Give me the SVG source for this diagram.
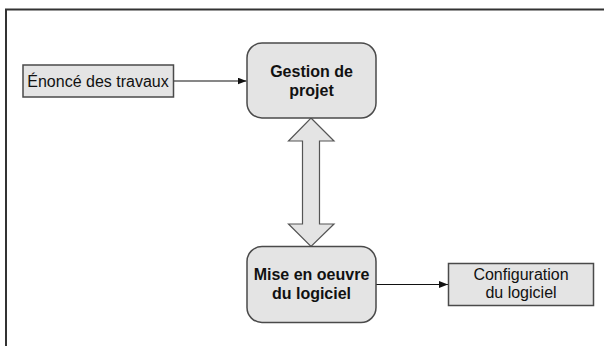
<svg xmlns="http://www.w3.org/2000/svg" width="604" height="346" viewBox="0 0 604 346">
<style>
.box{fill:#e4e4e4;stroke:#4a4a4a;stroke-width:1.5}
.t{font-family:"Liberation Sans",Arial,sans-serif;font-size:16px;fill:#111;text-anchor:middle}
.b{font-weight:bold}
.c{stroke:#111;stroke-width:1.2;fill:none}
</style>
<defs>
<marker id="ah" viewBox="0 0 10 10" refX="10" refY="5" markerWidth="9" markerHeight="7" markerUnits="userSpaceOnUse" orient="auto" preserveAspectRatio="none">
<path d="M0,0 L10,5 L0,10 Z" fill="#111"/>
</marker>
</defs>
<rect width="604" height="346" fill="#fff"/>
<path d="M6,346 V9.5 H604" fill="none" stroke="#333" stroke-width="2"/>
<g id="connectors">
<line class="c" x1="173.5" y1="81" x2="246.5" y2="81" marker-end="url(#ah)"/>
<line class="c" x1="376" y1="284.5" x2="448" y2="284.5" marker-end="url(#ah)"/>
<path d="M311,118 L334,141 L319.5,141 L319.5,224 L334,224 L311,246.5 L288.5,224 L302.5,224 L302.5,141 L288.5,141 Z" fill="#e4e4e4" stroke="#555" stroke-width="1.2"/>
</g>
<g id="enonce">
<rect class="box" x="23" y="65" width="150.5" height="32"/>
<text class="t" x="98" y="87">Énoncé des travaux</text>
</g>
<g id="gestion">
<rect class="box" x="247" y="43" width="129" height="75" rx="15"/>
<text class="t b" x="311.5" y="77">Gestion de</text>
<text class="t b" x="311.5" y="95.5">projet</text>
</g>
<g id="mise">
<rect class="box" x="247" y="246.5" width="129" height="76" rx="15"/>
<text class="t b" x="311.5" y="280">Mise en oeuvre</text>
<text class="t b" x="311.5" y="299">du logiciel</text>
</g>
<g id="config">
<rect class="box" x="448.5" y="263.5" width="145" height="42"/>
<text class="t" x="521" y="280">Configuration</text>
<text class="t" x="521" y="298">du logiciel</text>
</g>
</svg>
